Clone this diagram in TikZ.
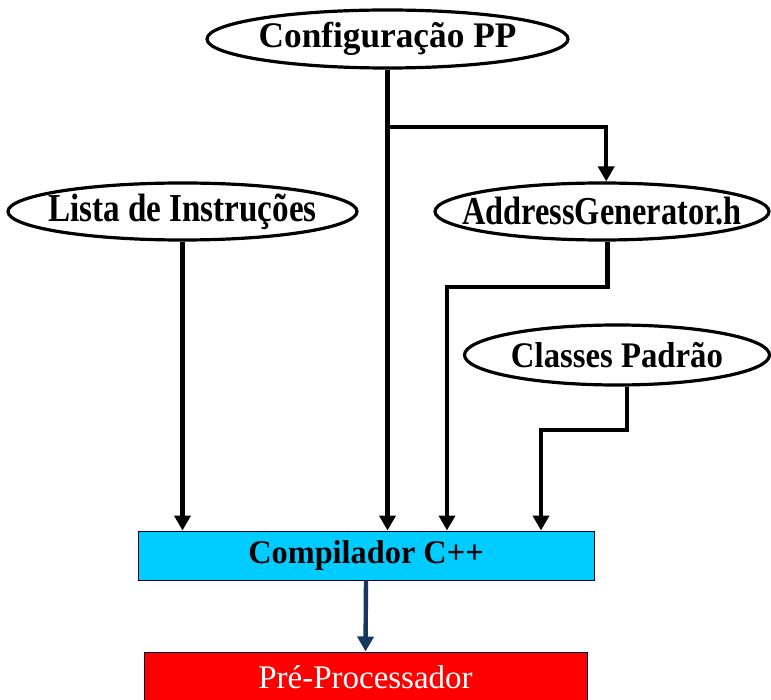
\documentclass[tikz,border=0pt]{standalone}
\usepackage{fontspec}
\setmainfont{Liberation Serif}
\usetikzlibrary{shapes.geometric,arrows.meta,calc}
\definecolor{compcyan}{RGB}{0,204,255}
\definecolor{prered}{RGB}{255,0,0}
\definecolor{navy}{RGB}{23,55,94}
\begin{document}
\begin{tikzpicture}[x=1pt,y=-1pt,
  oval/.style={ellipse,draw=black,line width=3.2pt,fill=white,inner sep=0pt,font=\fontsize{36}{40}\selectfont\bfseries},
  conn/.style={line width=4.4pt,-{Triangle[width=16pt,length=15pt]}},
  boxc/.style={rectangle,draw=black!80!blue,line width=1pt,fill=compcyan,inner sep=0pt,font=\fontsize{33}{36}\selectfont\bfseries},
  boxr/.style={rectangle,draw=black!80!blue,line width=1pt,fill=prered,text=white,inner sep=0pt,font=\fontsize{33}{36}\selectfont}]
\useasboundingbox (0,0) rectangle (771,700);
\fill[white] (0,0) rectangle (771,700);
\node[oval,minimum width=361pt,minimum height=58pt] (cfg) at (387.5,39) {\raisebox{-4pt}{\makebox[0pt]{\scalebox{0.98}[1]{Configuração PP}}}};
\node[oval,minimum width=349pt,minimum height=57pt] (lista) at (182.5,211.5) {\raisebox{-3pt}{\makebox[0pt]{\scalebox{0.92}[1.1]{Lista de Instruções}}}};
\node[oval,minimum width=334pt,minimum height=57pt] (addr) at (602,211.5) {\raisebox{-3pt}{\makebox[0pt]{\scalebox{0.9}[1.1]{AddressGenerator.h}}}};
\node[oval,minimum width=305pt,minimum height=60pt] (cls) at (617,355) {\raisebox{-3pt}{\makebox[0pt]{\scalebox{0.91}[1]{Classes Padrão}}}};
\node[boxc,minimum width=456pt,minimum height=49pt] (comp) at (366,555.5) {\raisebox{-2pt}{\scalebox{0.98}[1]{Compilador C++}}};
\node[boxr,minimum width=443pt,minimum height=50pt] (pre) at (365.5,677) {Pré-Processador};
\coordinate (br) at (387,127);
\coordinate (a1) at (447,287);
\coordinate (c1) at (541,430);
\draw[conn] (cfg.south) -- (cfg.south |- comp.north);
\draw[conn] (br) -| (addr.82);
\draw[conn] (lista.south) -- (lista.south |- comp.north);
\draw[conn] (addr.-80) |- (a1) -- (a1 |- comp.north);
\draw[conn] (cls.-72) |- (c1) -- (c1 |- comp.north);
\draw[conn,navy] (comp.south) -- (pre.north);
\end{tikzpicture}
\end{document}
